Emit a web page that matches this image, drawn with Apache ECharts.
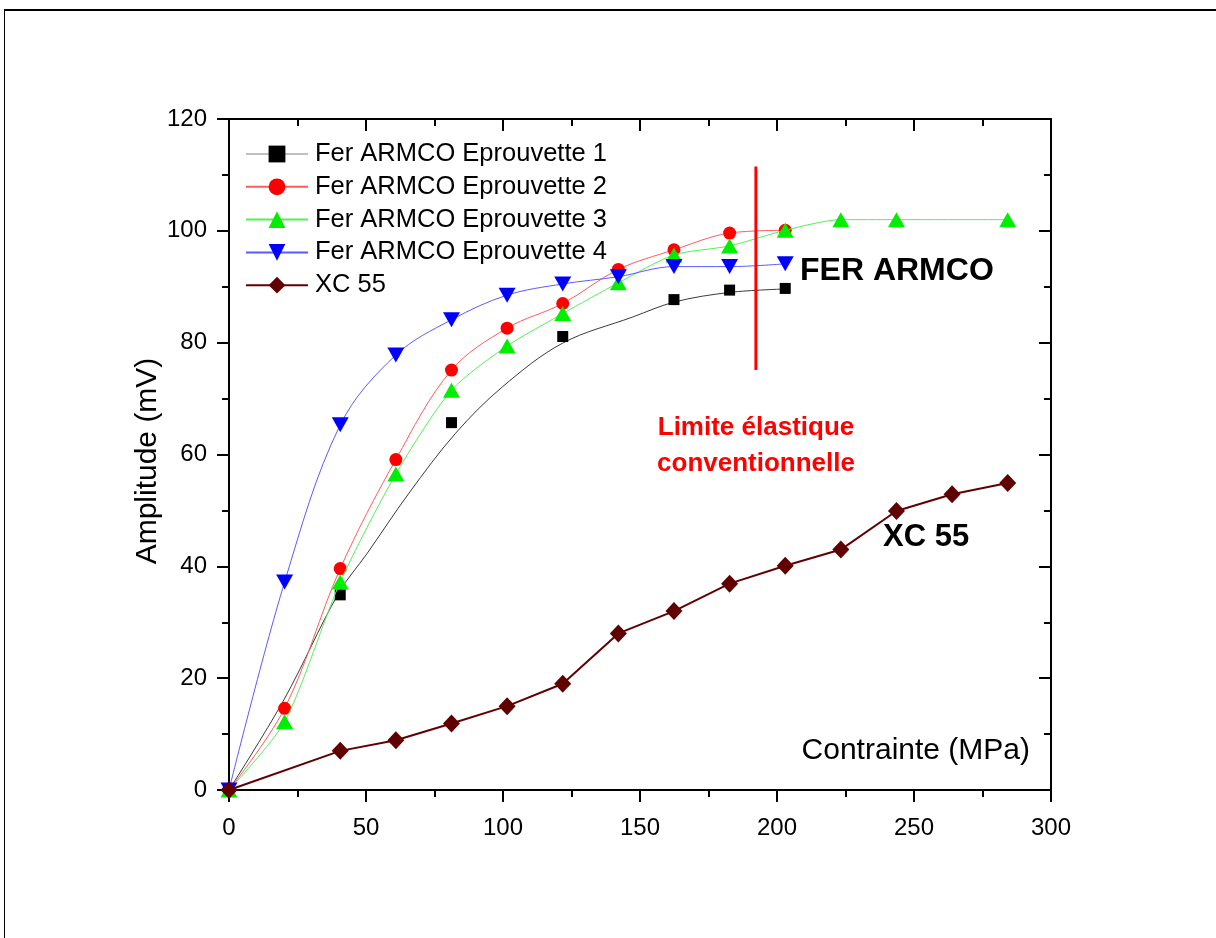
<!DOCTYPE html>
<html>
<head>
<meta charset="utf-8">
<script src="https://cdn.jsdelivr.net/npm/echarts@6/dist/echarts.min.js"></script>
<style>
html,body{margin:0;padding:0;background:#fff;}
#chart{width:1216px;height:938px;}
</style>
</head>
<body>
<div id="chart"></div>
<script>
// ---- data ----
const xTicks = [0, 50, 100, 150, 200, 250, 300];
const yTicks = [0, 20, 40, 60, 80, 100, 120];

const names = ['Fer ARMCO Eprouvette 1', 'Fer ARMCO Eprouvette 2', 'Fer ARMCO Eprouvette 3', 'Fer ARMCO Eprouvette 4', 'XC 55'];

const e1X = [0, 40.6, 81.2, 121.8, 162.4, 182.7, 203.0];
const e1Y = [0, 34.9, 65.7, 81.1, 87.7, 89.4, 89.7];

// fitted curve drawn for Eprouvette 1
const fit1X = [0, 20, 40, 50.4, 65.7, 82.7, 99.8, 121.7, 147.4, 162.8, 183.0, 203.0];
const fit1Y = [0, 16.1, 35.2, 42.3, 53.1, 63.8, 72.1, 79.9, 84.6, 87.3, 89.0, 89.6];

const e2X = [0, 20.3, 40.6, 60.9, 81.2, 101.5, 121.8, 142.1, 162.4, 182.7, 203.0];
const e2Y = [0, 14.6, 39.6, 59.1, 75.1, 82.6, 87.0, 93.1, 96.6, 99.6, 100.1];

const e3X = [0, 20.3, 40.6, 60.9, 81.2, 101.5, 121.8, 142.1, 162.4, 182.7, 203.0, 223.3, 243.6, 284.2];
const e3Y = [0, 12.2, 37.2, 56.5, 71.5, 79.4, 85.2, 90.7, 95.7, 97.3, 100.1, 102, 102, 102];

const e4X = [0, 20.3, 40.6, 60.9, 81.2, 101.5, 121.8, 142.1, 162.4, 182.7, 203.0];
const e4Y = [0, 37.2, 65.3, 77.8, 84.1, 88.5, 90.5, 91.8, 93.6, 93.6, 94.1];

const xcX = [0, 40.6, 60.9, 81.2, 101.5, 121.8, 142.1, 162.4, 182.7, 203.0, 223.3, 243.6, 263.9, 284.2];
const xcY = [0, 7, 8.9, 11.9, 15, 19, 28, 32, 36.9, 40.1, 43, 49.9, 52.9, 54.9];

// conventional elastic limit marker
const limitX = [192.3, 192.3];
const limitY = [75.1, 111.5];

const pairs = (xs, ys) => xs.map((x, i) => [x, ys[i]]);

const FONT = 'Liberation Sans, Arial, sans-serif';

const chart = echarts.init(document.getElementById('chart'), null, {renderer: 'canvas'});

const axisCommon = {
  axisLine: {show: true, onZero: false, lineStyle: {color: '#000', width: 2}},
  splitLine: {show: false},
  minorSplitLine: {show: false}
};

const option = {
  backgroundColor: '#fff',
  animation: false,
  grid: {left: 229, top: 119, right: 165, bottom: 148, containLabel: false},
  xAxis: [
    Object.assign({}, axisCommon, {
      type: 'value', position: 'bottom', min: xTicks[0], max: xTicks[xTicks.length - 1], interval: 50,
      axisTick: {show: true, inside: false, length: 12, lineStyle: {color: '#000', width: 2}},
      minorTick: {show: true, splitNumber: 2, length: 7, lineStyle: {color: '#000', width: 2}},
      axisLabel: {show: true, margin: 26, color: '#000', fontSize: 24, fontFamily: FONT}
    }),
    Object.assign({}, axisCommon, {
      type: 'value', position: 'top', min: xTicks[0], max: xTicks[xTicks.length - 1], interval: 50,
      axisTick: {show: true, inside: true, length: 12, lineStyle: {color: '#000', width: 2}},
      minorTick: {show: true, splitNumber: 2, length: 7, lineStyle: {color: '#000', width: 2}},
      axisLabel: {show: false}
    })
  ],
  yAxis: [
    Object.assign({}, axisCommon, {
      type: 'value', position: 'left', min: yTicks[0], max: yTicks[yTicks.length - 1], interval: 20,
      axisTick: {show: true, inside: false, length: 12, lineStyle: {color: '#000', width: 2}},
      minorTick: {show: true, splitNumber: 2, length: 7, lineStyle: {color: '#000', width: 2}},
      axisLabel: {show: true, margin: 22, color: '#000', fontSize: 24, fontFamily: FONT}
    }),
    Object.assign({}, axisCommon, {
      type: 'value', position: 'right', min: yTicks[0], max: yTicks[yTicks.length - 1], interval: 20,
      axisTick: {show: true, inside: true, length: 12, lineStyle: {color: '#000', width: 2}},
      minorTick: {show: true, splitNumber: 2, length: 7, lineStyle: {color: '#000', width: 2}},
      axisLabel: {show: false}
    })
  ],
  legend: {
    orient: 'vertical', left: 245, top: 141,
    itemWidth: 62, itemHeight: 21, itemGap: 6.8,
    padding: 0,
    textStyle: {color: '#000', fontSize: 25.5, fontFamily: FONT, lineHeight: 24, padding: [0, 0, 0, 2]},
    data: [
      {name: names[0], lineStyle: {color: '#808080', width: 1, opacity: 1}},
      {name: names[1]},
      {name: names[2]},
      {name: names[3]},
      {name: names[4]}
    ]
  },
  series: [
    {
      name: 'fit1', type: 'line', data: pairs(fit1X, fit1Y), smooth: 0.35,
      showSymbol: false, symbol: 'none', lineStyle: {color: '#3a3a3a', width: 1}, z: 2, silent: true
    },
    {
      name: names[0], type: 'line', data: pairs(e1X, e1Y),
      symbol: 'rect', symbolSize: 11, itemStyle: {color: '#000'},
      lineStyle: {width: 0, opacity: 0, color: '#808080'}, z: 3
    },
    {
      name: names[1], type: 'line', data: pairs(e2X, e2Y), smooth: 0.35,
      symbol: 'circle', symbolSize: 13, itemStyle: {color: '#ff0000'},
      lineStyle: {width: 1, color: '#ff5a5a'}, z: 4
    },
    {
      name: names[2], type: 'line', data: pairs(e3X, e3Y), smooth: 0.25,
      symbol: 'triangle', symbolSize: [17, 15], itemStyle: {color: '#00ee00'},
      lineStyle: {width: 1, color: '#55ee55'}, z: 5
    },
    {
      name: names[3], type: 'line', data: pairs(e4X, e4Y), smooth: 0.35,
      symbol: 'triangle', symbolRotate: 180, symbolSize: [17, 15], itemStyle: {color: '#0000ff'},
      lineStyle: {width: 1, color: '#5a5aff'}, z: 6
    },
    {
      name: names[4], type: 'line', data: pairs(xcX, xcY),
      symbol: 'diamond', symbolSize: [17, 18], itemStyle: {color: '#600000'},
      lineStyle: {width: 2, color: '#600000'}, z: 7
    },
    {
      name: 'limit', type: 'line', data: pairs(limitX, limitY),
      symbol: 'none', showSymbol: false, lineStyle: {width: 3, color: '#ff0000'}, z: 8, silent: true
    }
  ],
  graphic: [
    {type: 'rect', shape: {x: 4, y: 9, width: 1212, height: 2}, style: {fill: '#000'}, silent: true},
    {type: 'rect', shape: {x: 4, y: 9, width: 1, height: 929}, style: {fill: '#000'}, silent: true},
    {type: 'text', x: 148, y: 461, rotation: Math.PI / 2,
      style: {text: 'Amplitude (mV)', fill: '#000', font: '30px ' + FONT, textAlign: 'center', textVerticalAlign: 'middle'}},
    {type: 'text', x: 1030, y: 751,
      style: {text: 'Contrainte (MPa)', fill: '#000', font: '30px ' + FONT, textAlign: 'right', textVerticalAlign: 'middle'}},
    {type: 'text', x: 800, y: 271,
      style: {text: 'FER ARMCO', fill: '#000', font: 'bold 32px ' + FONT, textAlign: 'left', textVerticalAlign: 'middle'}},
    {type: 'text', x: 883, y: 537,
      style: {text: 'XC 55', fill: '#000', font: 'bold 31px ' + FONT, textAlign: 'left', textVerticalAlign: 'middle'}},
    {type: 'text', x: 756, y: 428,
      style: {text: 'Limite élastique', fill: '#ff0000', font: 'bold 26px ' + FONT, textAlign: 'center', textVerticalAlign: 'middle'}},
    {type: 'text', x: 756, y: 464,
      style: {text: 'conventionnelle', fill: '#ff0000', font: 'bold 26px ' + FONT, textAlign: 'center', textVerticalAlign: 'middle'}}
  ]
};

chart.setOption(option);
</script>
</body>
</html>
